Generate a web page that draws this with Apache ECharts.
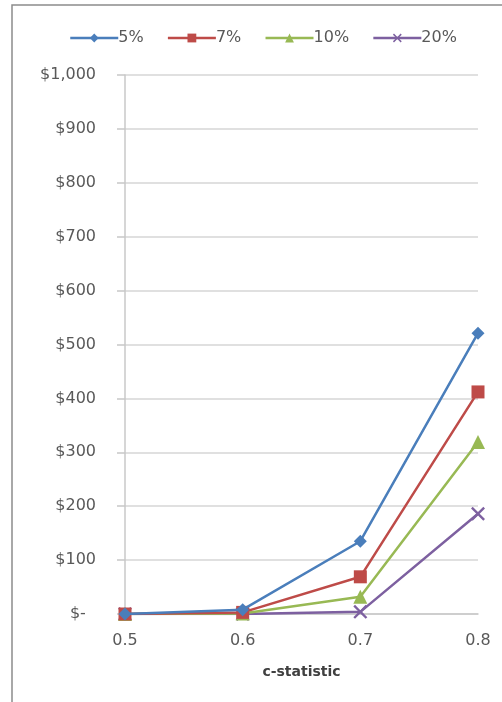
<!DOCTYPE html>
<html>
<head>
<meta charset="utf-8">
<style>
  html, body { margin: 0; padding: 0; background: #ffffff; }
  #chart { width: 502px; height: 702px; }
</style>
<script src="https://cdn.jsdelivr.net/npm/echarts@6/dist/echarts.min.js"></script>
</head>
<body>
<div id="chart"></div>
<script>
// c-statistic values on the horizontal axis
const cStatistic = ['0.5', '0.6', '0.7', '0.8'];

// Cost per series (prevalence levels)
const seriesNames = ['5%', '7%', '10%', '20%'];
const cost5 = [0, 8, 135, 521];
const cost7 = [0, 3, 69, 412];
const cost10 = [0, 1, 32, 319];
const cost20 = [0, 0, 4, 186];

// Y axis range
const yMin = 0;
const yMax = 1000;
const yStep = 100;

const colors = ['#4a7ebb', '#be4b48', '#98b954', '#7d60a0'];
const crossPath = 'path://M0,1.2L1.2,0L5,3.8L8.8,0L10,1.2L6.2,5L10,8.8L8.8,10L5,6.2L1.2,10L0,8.8L3.8,5Z';
const symbols = ['diamond', 'rect', 'triangle', crossPath];
const symbolSizes = [13, 13, 14, 14];
const values = [cost5, cost7, cost10, cost20];

const font = '"DejaVu Sans", Verdana, sans-serif';
const textColor = '#595959';

function money(v) {
  if (v === 0) return '$-  ';
  return '$' + v.toLocaleString('en-US');
}

const chart = echarts.init(document.getElementById('chart'), null, { renderer: 'canvas' });

chart.setOption({
  animation: false,
  backgroundColor: '#ffffff',
  color: colors,
  graphic: [{
    type: 'rect',
    shape: { x: 12, y: 5, width: 520, height: 720 },
    style: { fill: 'none', stroke: '#8c8c8c', lineWidth: 1.5 },
    silent: true,
    z: -10
  }],
  legend: {
    top: 25,
    left: 64,
    itemWidth: 48,
    itemHeight: 11,
    itemGap: 23,
    lineStyle: { width: 2.5 },
    textStyle: { fontFamily: font, fontSize: 16, color: textColor, padding: [0, 0, 0, -5] },
    data: seriesNames
  },
  grid: { left: 125, right: 24, top: 75, bottom: 88 },
  xAxis: {
    type: 'category',
    data: cStatistic,
    boundaryGap: false,
    name: 'c-statistic',
    nameLocation: 'middle',
    nameGap: 51,
    nameTextStyle: { fontFamily: font, fontSize: 14, fontWeight: 'bold', color: '#404040' },
    axisLine: { lineStyle: { color: '#c8c8c8', width: 1.5 } },
    axisTick: { show: false },
    axisLabel: { fontFamily: font, fontSize: 16, color: textColor, margin: 19 }
  },
  yAxis: {
    type: 'value',
    min: yMin,
    max: yMax,
    interval: yStep,
    axisLine: { show: true, lineStyle: { color: '#c8c8c8', width: 1.5 } },
    axisTick: { show: true, length: 8, inside: false, lineStyle: { color: '#c8c8c8', width: 1.5 } },
    splitLine: { lineStyle: { color: '#d6d6d6', width: 1.5 } },
    axisLabel: { fontFamily: font, fontSize: 16, color: textColor, margin: 29, formatter: money }
  },
  series: seriesNames.map((name, i) => ({
    name: name,
    type: 'line',
    data: values[i],
    symbol: symbols[i],
    symbolSize: symbolSizes[i],
    showAllSymbol: true,
    lineStyle: { width: 2.5, color: colors[i] },
    itemStyle: { color: colors[i] },
    z: 10 - i
  }))
});
</script>
</body>
</html>
